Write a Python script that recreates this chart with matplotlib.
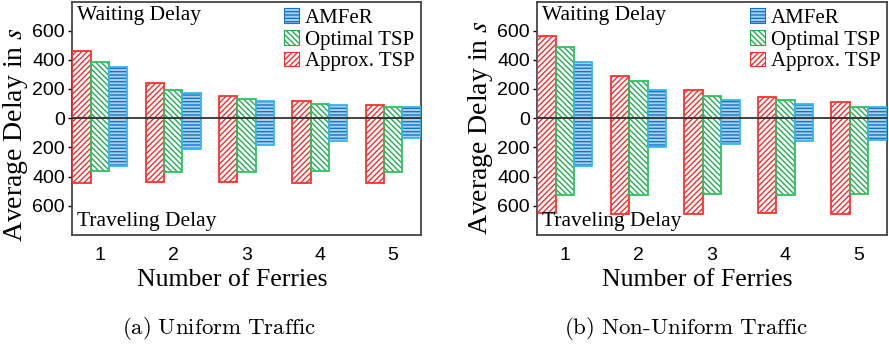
import matplotlib
matplotlib.use("Agg")
import matplotlib.pyplot as plt
import numpy as np

ferries = [1, 2, 3, 4, 5]
series_names = ["Approx. TSP", "Optimal TSP", "AMFeR"]

# Uniform traffic: waiting (positive up) and traveling (plotted downward)
uni_wait = {"Approx. TSP": [462, 240, 155, 119, 91],
            "Optimal TSP": [384, 194, 130, 96, 78],
            "AMFeR": [352, 171, 119, 89, 73]}
uni_travel = {"Approx. TSP": [446, 434, 439, 441, 446],
              "Optimal TSP": [363, 368, 368, 359, 366],
              "AMFeR": [325, 213, 183, 158, 137]}

# Non-uniform traffic
non_wait = {"Approx. TSP": [560, 288, 192, 144, 110],
            "Optimal TSP": [489, 251, 155, 126, 75],
            "AMFeR": [384, 192, 126, 94, 75]}
non_travel = {"Approx. TSP": [651, 656, 656, 647, 656],
              "Optimal TSP": [528, 526, 519, 528, 521],
              "AMFeR": [325, 199, 176, 155, 149]}

ytick_vals = [600, 400, 200, 0, -200, -400, -600]
ytick_labels = ["600", "400", "200", "0", "200", "400", "600"]
captions = [r"$\mathrm{(a)\ Uniform\ Traffic}$", r"$\mathrm{(b)\ Non\text{-}Uniform\ Traffic}$"]

styles = {
    "Approx. TSP": dict(face="white", hatch="//////", hcol="#ff2a2a", edge="#ff3030"),
    "Optimal TSP": dict(face="white", hatch="\\\\\\\\\\\\", hcol="#1fae4e", edge="#30c060"),
    "AMFeR": dict(face="#a8d2f2", hatch="-----", hcol="#1574c8", edge="#38b4ec"),
}
offsets = {"Approx. TSP": -0.25, "Optimal TSP": 0.0, "AMFeR": 0.25}
width = 0.25

plt.rcParams["hatch.linewidth"] = 1.0

fig = plt.figure(figsize=(8.89, 3.46), dpi=100)
axes_rects = [[0.081, 0.321, 0.3926, 0.673], [0.604, 0.321, 0.3937, 0.673]]
caption_x = [219.5 / 889, 686 / 889]
ylabel_y = [0.433, 0.46]
serif = ["Liberation Serif", "DejaVu Serif"]
sans = ["Liberation Sans", "DejaVu Sans"]

for idx, (wait, travel) in enumerate([(uni_wait, uni_travel), (non_wait, non_travel)]):
    ax = fig.add_axes(axes_rects[idx])
    x = np.array(ferries, dtype=float)
    handles = {}
    for name in series_names:
        st = styles[name]
        xs = x + offsets[name]
        w = np.array(wait[name], dtype=float)
        t = np.array(travel[name], dtype=float)
        for vals in (w, -t):
            ax.bar(xs, vals, width=width, color=st["face"], hatch=st["hatch"],
                   edgecolor=st["hcol"], linewidth=0, zorder=2)
            ax.bar(xs, vals, width=width, fill=False, edgecolor=st["edge"],
                   linewidth=1.3, zorder=3)
        handles[name] = plt.Rectangle((0, 0), 1, 1, facecolor=st["face"],
                                      hatch=st["hatch"], edgecolor=st["hcol"],
                                      linewidth=0.8)
    ax.axhline(0, color="#333333", linewidth=1.3, zorder=4)
    ax.set_xlim(0.62, 5.38)
    ax.set_ylim(-800, 795)
    ax.set_yticks(ytick_vals)
    ax.set_yticklabels(ytick_labels, fontfamily=sans, fontsize=14)
    ax.set_xticks(ferries)
    ax.set_xticklabels([str(f) for f in ferries], fontfamily=sans, fontsize=14)
    ax.tick_params(axis="y", direction="out", length=3, width=1, pad=2)
    ax.tick_params(axis="x", length=0, pad=9)
    for sp in ax.spines.values():
        sp.set_color("#444444")
        sp.set_linewidth(1.3)
    ax.set_ylabel("Average Delay in $s$", fontfamily=serif, fontsize=20,
                  math_fontfamily="stix")
    ax.yaxis.set_label_coords(-0.12, ylabel_y[idx])
    ax.set_xlabel("Number of Ferries", fontfamily=serif, fontsize=18.5)
    ax.xaxis.set_label_coords(0.459, -0.145)
    ax.text(0.015, 0.985, "Waiting Delay", transform=ax.transAxes, ha="left", va="top",
            fontfamily=serif, fontsize=15.5)
    ax.text(0.015, 0.015, "Traveling Delay", transform=ax.transAxes, ha="left", va="bottom",
            fontfamily=serif, fontsize=15.5)
    order = ["AMFeR", "Optimal TSP", "Approx. TSP"]
    ax.legend([handles[n] for n in order], order, loc="upper right",
              prop={"family": serif, "size": 15}, frameon=False,
              handlelength=0.7, handleheight=0.7, handletextpad=0.3,
              labelspacing=0.1, borderaxespad=0.1, borderpad=0.2)
    fig.text(caption_x[idx], 1 - 329 / 346, captions[idx], ha="center", va="center",
             fontsize=16.5, math_fontfamily="cm")

fig.savefig("out.png", dpi=100)
